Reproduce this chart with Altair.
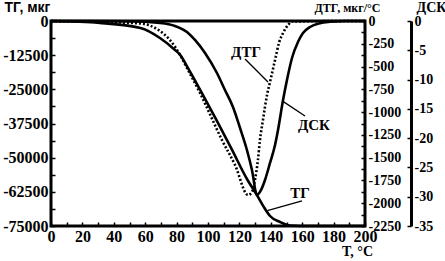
import altair as alt
import pandas as pd

# ---- data ----
tg_T = [0, 31, 57, 69.4, 79, 82, 88, 95, 105, 115, 124.8, 131.2, 135.5, 139.5, 145.9, 152.2, 158.6, 200]
tg_v = [0, -700, -2560, -6220, -10600, -12200, -18000, -25200, -35800, -46800, -57800, -63700, -68000,
        -71340, -73540, -74820, -75000, -75000]

dtg_T = [0, 31.2, 56.7, 69.4, 75.8, 82.2, 87.3, 94.9, 108.9, 117.2, 125.5, 128.0, 129.9, 131.8, 133.1,
         135.0, 137.6, 139.5, 142.7, 145.2, 147.8, 151.0, 153.5, 200]
dtg_v = [0, -11, -27, -110, -209, -373, -538, -790, -1306, -1580, -1910, -1877, -1745, -1526, -1306,
         -1087, -812, -670, -428, -241, -132, -44, -5, 0]

dsk_T = [0, 50.3, 69.4, 79.0, 86.6, 91.7, 98.1, 105.7, 110.8, 115.9, 120.4, 124.8, 128.0, 131.2, 133.8,
         136.3, 139.5, 142.7, 144.6, 147.8, 150.3, 153.5, 157.3, 160.5, 165.0, 171.3, 177.7, 187.3, 200]
dsk_v = [0, -0.05, -0.34, -0.85, -1.88, -3.24, -5.46, -8.88, -11.78, -14.68, -18.27, -22.02, -25.44,
         -29.71, -28.85, -27.15, -24.24, -21.17, -18.61, -13.49, -10.07, -6.32, -3.59, -2.05, -1.02,
         -0.39, -0.14, 0, 0]

# annotation labels (positions in ТГ units)
lab_text = ["ДТГ", "ДСК", "ТГ"]
lab_T = [124.2, 167.5, 158.6]
lab_v = [-11500, -38000, -63050]
lead_T1 = [123.6, 148.0, 137.8]
lead_v1 = [-13900, -29500, -69400]
lead_T2 = [138.2, 161.8, 159.9]
lead_v2 = [-22300, -34750, -65850]

x_ticks = list(range(0, 201, 10))
tg_ticks = list(range(-75000, 1, 6250))
dtg_ticks = list(range(-2250, 1, 125))
dsk_ticks = list(range(-35, 1, 5))

tg = pd.DataFrame({"T": tg_T, "v": tg_v})
dtg = pd.DataFrame({"T": dtg_T, "v": dtg_v})
dsk = pd.DataFrame({"T": dsk_T, "v": dsk_v})
labs = pd.DataFrame({"T": lab_T, "v": lab_v, "t": lab_text})
leads = pd.DataFrame({"T": lead_T1, "v": lead_v1, "T2": lead_T2, "v2": lead_v2})

SERIF = "Liberation Serif, Times New Roman, serif"
SANS = "Liberation Sans, Arial, sans-serif"

x_enc = alt.X("T:Q", scale=alt.Scale(domain=[0, 200], nice=False, zero=False),
              axis=alt.Axis(values=x_ticks, labelExpr="datum.value % 20 == 0 ? datum.label : ''",
                            offset=-4, tickSize=4, tickWidth=1.5, tickColor="black", domain=False,
                            grid=False, labelFlush=False, labelOverlap=False, labelPadding=2,
                            labelFont=SERIF, labelFontSize=16, labelFontWeight="bold", labelColor="black",
                            title="T, °C", titleFont=SERIF, titleFontSize=14, titleFontWeight="bold",
                            titleColor="black", titleX=306, titleY=29, titleAlign="center",
                            titleBaseline="middle", titleAngle=0))

tg_line = alt.Chart(tg).mark_line(color="black", strokeWidth=2.6, interpolate="monotone").encode(
    x=x_enc,
    y=alt.Y("v:Q", scale=alt.Scale(domain=[-75000, 0], nice=False, zero=False),
            axis=alt.Axis(orient="left", values=tg_ticks,
                          labelExpr="datum.value % 12500 == 0 ? '' + datum.value : ''",
                          offset=-4, tickSize=4, tickWidth=1.5, tickColor="black", domain=False, grid=False,
                          labelOverlap=False, labelFlush=False, labelPadding=3,
                          labelFont=SERIF, labelFontSize=16, labelFontWeight="bold", labelColor="black",
                          title="ТГ, мкг", titleFont=SANS, titleFontSize=14,
                          titleFontWeight="bold", titleColor="black", titleAngle=0, titleAlign="left",
                          titleBaseline="middle", titleX=-51, titleY=-14)),
)

dtg_line = alt.Chart(dtg).mark_line(color="black", strokeWidth=2.6, strokeDash=[2, 2],
                                    interpolate="monotone").encode(
    x=x_enc,
    y=alt.Y("v:Q", scale=alt.Scale(domain=[-2250, 0], nice=False, zero=False),
            axis=alt.Axis(orient="right", values=dtg_ticks,
                          labelExpr="datum.value % 250 == 0 ? '' + datum.value : ''",
                          offset=-4, tickSize=4, tickWidth=1.5, tickColor="black", domain=False, grid=False,
                          labelOverlap=False, labelFlush=False, labelPadding=3,
                          labelFont=SERIF, labelFontSize=14, labelFontWeight="bold", labelColor="black",
                          title="ДТГ, мкг/°С", titleFont=SERIF, titleFontSize=12,
                          titleFontWeight="bold", titleColor="black", titleAngle=0, titleAlign="right",
                          titleBaseline="middle", titleX=19, titleY=-14)),
)

dsk_line = alt.Chart(dsk).mark_line(color="black", strokeWidth=2.6, interpolate="monotone").encode(
    x=x_enc,
    y=alt.Y("v:Q", scale=alt.Scale(domain=[-35, 0], nice=False, zero=False),
            axis=alt.Axis(orient="right", values=dsk_ticks, labelExpr="'' + datum.value",
                          offset=42, tickSize=4, tickWidth=1.5, tickColor="black", domain=False, grid=False,
                          labelOverlap=False, labelFlush=False, labelPadding=3,
                          labelFont=SERIF, labelFontSize=14, labelFontWeight="bold", labelColor="black",
                          title="ДСК", titleFont=SERIF, titleFontSize=14,
                          titleFontWeight="bold", titleColor="black", titleAngle=0, titleAlign="left",
                          titleBaseline="middle", titleX=9, titleY=-14)),
)

dsk_domain = alt.Chart(dsk).mark_line(opacity=0).encode(
    x=x_enc,
    y=alt.Y("v:Q", scale=alt.Scale(domain=[-35, 0], nice=False, zero=False),
            axis=alt.Axis(orient="right", offset=46, domain=True, domainColor="black", domainWidth=3,
                          ticks=False, labels=False, grid=False, title=None)),
)

lead_rules = alt.Chart(leads).mark_rule(color="black", strokeWidth=1.3).encode(
    x=x_enc,
    y=alt.Y("v:Q", scale=alt.Scale(domain=[-75000, 0], nice=False, zero=False), axis=None),
    x2="T2:Q",
    y2="v2:Q",
)

lab_marks = alt.Chart(labs).mark_text(font=SERIF, fontSize=15, fontWeight="bold", color="black",
                                      align="center", baseline="middle").encode(
    x=x_enc,
    y=alt.Y("v:Q", scale=alt.Scale(domain=[-75000, 0], nice=False, zero=False), axis=None),
    text="t:N",
)

chart = alt.layer(tg_line, dtg_line, dsk_line, dsk_domain, lead_rules, lab_marks).resolve_scale(
    y="independent"
).properties(
    width=314, height=205,
    autosize=alt.AutoSizeParams(type="none"),
    padding={"left": 51, "top": 21, "right": 80, "bottom": 35},
    background="white",
).configure_view(stroke="black", strokeWidth=3)

chart.save("out.html", embed_options={"renderer": "svg", "actions": False})
